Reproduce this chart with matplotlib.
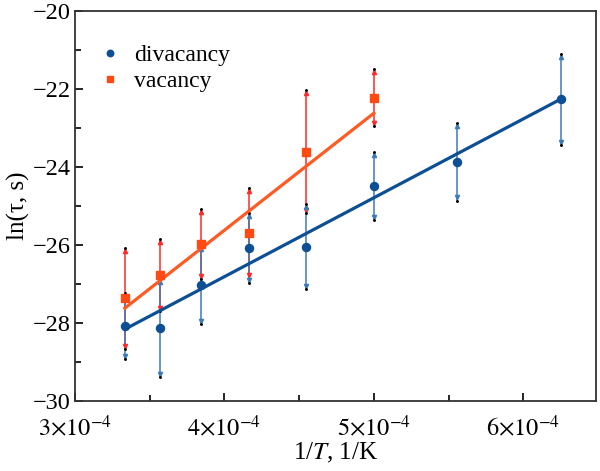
import numpy as np
import matplotlib
matplotlib.use("Agg")
import matplotlib.pyplot as plt
from matplotlib.ticker import MultipleLocator, FuncFormatter

plt.rcParams["font.family"] = ["Liberation Serif", "DejaVu Serif"]
plt.rcParams["mathtext.fontset"] = "stix"

# divacancy data: 1/T (1/K), ln(tau), error
div_temp = [3000, 2800, 2600, 2400, 2200, 2000, 1800, 1600]
div_ln_tau = [-28.07, -28.12, -27.03, -26.07, -26.04, -24.49, -23.86, -22.26]
div_err = [0.85, 1.26, 1.0, 0.9, 1.1, 0.88, 1.0, 1.17]
div_fit_x = [1 / 3000, 1 / 1600]
div_fit_y = [-28.16, -22.26]

# vacancy data
vac_temp = [3000, 2800, 2600, 2400, 2200, 2000]
vac_ln_tau = [-27.37, -26.77, -25.97, -25.70, -23.61, -22.22]
vac_err = [1.3, 0.93, 0.9, 1.16, 1.58, 0.73]
vac_fit_x = [1 / 3000, 1 / 2000]
vac_fit_y = [-27.62, -22.62]

x_ticks = [3e-4, 4e-4, 5e-4, 6e-4]

DIV_DARK = "#0d4f94"
DIV_BAR = "#3d7ab8"
VAC_DARK = "#ff4a14"
VAC_BAR = "#ff2a2a"
VAC_LINE = "#ff5a22"


def draw_series(ax, temps, vals, errs, bar_color, marker, mcolor, ms, label):
    x = 1.0 / np.array(temps)
    y = np.array(vals)
    e = np.array(errs)
    ax.errorbar(x, y, yerr=e, fmt="none", ecolor=bar_color, elinewidth=1.1, capsize=0, zorder=2)
    # small arrow heads at the ends of the bars, with a dark tip
    ax.plot(x, y + e - 0.08, "^", color=bar_color, ms=3.0, zorder=3)
    ax.plot(x, y - e + 0.08, "v", color=bar_color, ms=3.0, zorder=3)
    ax.plot(x, y + e, "o", color="black", ms=1.1, zorder=3)
    ax.plot(x, y - e, "o", color="black", ms=1.1, zorder=3)
    ax.plot(x, y, marker, color=mcolor, ms=ms, linestyle="none", label=label, zorder=5)


fig = plt.figure(figsize=(6.0, 4.71), dpi=100)
ax = fig.add_axes([0.125, 0.1486, 0.868, 0.828])

draw_series(ax, vac_temp, vac_ln_tau, vac_err, VAC_BAR, "s", VAC_DARK, 5.2, "vacancy")
draw_series(ax, div_temp, div_ln_tau, div_err, DIV_BAR, "o", DIV_DARK, 5.8, "divacancy")

ax.plot(div_fit_x, div_fit_y, color=DIV_DARK, lw=2.3, zorder=4)
ax.plot(vac_fit_x, vac_fit_y, color=VAC_LINE, lw=2.3, zorder=4)

ax.set_xlim(3e-4, 6.485e-4)
ax.set_ylim(-30, -20)

ax.set_xticks(x_ticks)
ax.xaxis.set_minor_locator(MultipleLocator(0.5e-4))
ax.yaxis.set_major_locator(MultipleLocator(2))
ax.yaxis.set_minor_locator(MultipleLocator(1))


def sci_fmt(v, pos):
    m = int(round(v / 1e-4))
    return r"$%d{\times}10^{-4}$" % m


ax.xaxis.set_major_formatter(FuncFormatter(sci_fmt))
ax.yaxis.set_major_formatter(FuncFormatter(lambda v, p: "\u2212%d" % abs(v) if v < 0 else "%d" % v))

ax.tick_params(which="both", direction="in", top=False, right=False, labelsize=17.5, width=1.2)
ax.tick_params(which="major", length=6)
ax.tick_params(which="minor", length=4)
ax.tick_params(axis="x", which="major", pad=10)
ax.tick_params(axis="y", which="major", pad=3)
for sp in ax.spines.values():
    sp.set_linewidth(1.3)
    sp.set_color("#333333")

ax.set_xlabel(r"1/$T$, 1/K", fontsize=18, labelpad=0)
ax.set_ylabel("ln(\u03c4, s)", fontsize=18, labelpad=2)

handles, labels = ax.get_legend_handles_labels()
ax.legend(handles[::-1], labels[::-1], loc="upper left", bbox_to_anchor=(0.0, 0.975),
          frameon=False, fontsize=17, handlelength=1.0, handletextpad=0.5,
          markerscale=0.8, labelspacing=0.2, borderaxespad=0.6)

fig.savefig("out.png", dpi=100)
